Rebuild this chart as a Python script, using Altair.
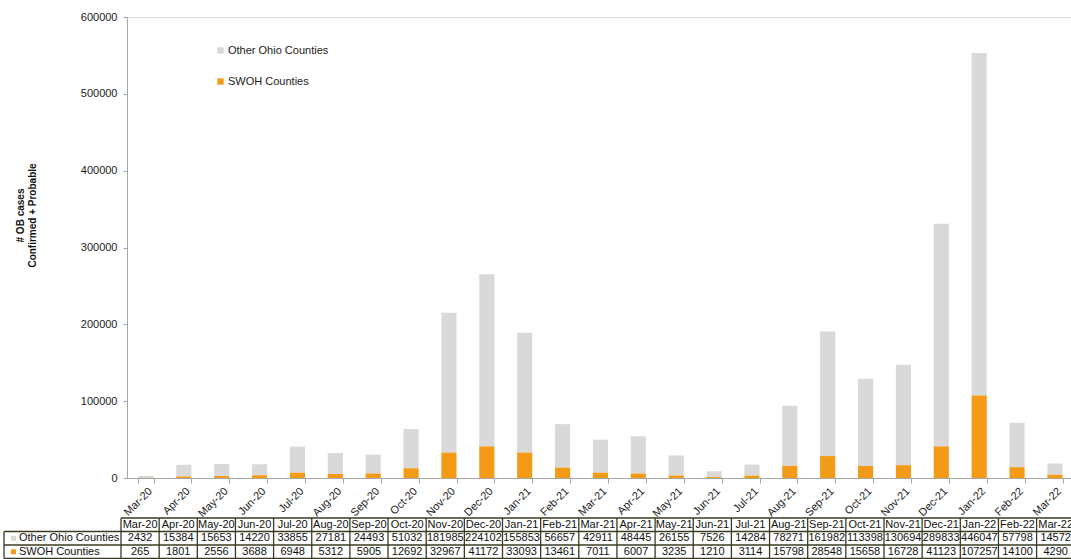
import altair as alt
import pandas as pd

months = ["Mar-20", "Apr-20", "May-20", "Jun-20", "Jul-20", "Aug-20", "Sep-20", "Oct-20",
          "Nov-20", "Dec-20", "Jan-21", "Feb-21", "Mar-21", "Apr-21", "May-21", "Jun-21",
          "Jul-21", "Aug-21", "Sep-21", "Oct-21", "Nov-21", "Dec-21", "Jan-22", "Feb-22", "Mar-22"]
other_ohio = [2432, 15384, 15653, 14220, 33855, 27181, 24493, 51032, 181985, 224102, 155853,
              56657, 42911, 48445, 26155, 7526, 14284, 78271, 161982, 113398, 130694, 289833,
              446047, 57798, 14572]
swoh = [265, 1801, 2556, 3688, 6948, 5312, 5905, 12692, 32967, 41172, 33093, 13461, 7011,
        6007, 3235, 1210, 3114, 15798, 28548, 15658, 16728, 41123, 107257, 14100, 4290]
series_names = ["Other Ohio Counties", "SWOH Counties"]
series_colors = ["#D9D9D9", "#F39B16"]
y_ticks = [0, 100000, 200000, 300000, 400000, 500000, 600000]

rows = []
for i, m in enumerate(months):
    rows.append({"month": m, "series": series_names[0], "value": other_ohio[i], "stack": 1})
    rows.append({"month": m, "series": series_names[1], "value": swoh[i], "stack": 0})
df = pd.DataFrame(rows)
mdf = pd.DataFrame({"month": months})
sdf = pd.DataFrame({"series": series_names, "color": series_colors})

FONT = "Liberation Sans"
W, H = 944, 461
STEP = 37.875
TSTEP = 38.15
TX0 = -6
T_TOP, T_R1, T_R2, T_BOT = 501, 514.5, 528, 541.5
LINE = "#3a3a22"
TFS = 11

xscale = alt.Scale(domain=months, range=[0, STEP * len(months)], paddingInner=0.6, paddingOuter=0.3)
bars = alt.Chart(df).mark_bar().encode(
    x=alt.X("month:N", sort=months, scale=xscale, title=None,
            axis=alt.Axis(labelAngle=315, tickBand="extent", tickSize=5, labelFontSize=11,
                          labelFont=FONT, labelColor="#222", domainColor="#A6A6A6",
                          tickColor="#A6A6A6", labelPadding=2)),
    y=alt.Y("value:Q", stack="zero",
            scale=alt.Scale(domain=[0, 600000], nice=False),
            axis=alt.Axis(values=y_ticks, format="d", grid=False, tickSize=4, labelPadding=6,
                          labelFontSize=11, labelFont=FONT, labelColor="#222",
                          domainColor="#A6A6A6", tickColor="#A6A6A6",
                          title=["# OB cases", "Confirmed + Probable"], titleFont=FONT,
                          titleFontSize=10, titleFontWeight="bold", titleColor="#111",
                          titleAngle=270, titleX=-107, titleY=198, titleAlign="center",
                          titleBaseline="middle", titleLineHeight=12)),
    color=alt.Color("series:N", scale=alt.Scale(domain=series_names, range=series_colors),
                    legend=alt.Legend(title=None, orient="none", legendX=88, legendY=28,
                                      symbolType="square", symbolSize=40, symbolStrokeWidth=0,
                                      labelFont=FONT, labelFontSize=11, labelColor="#222",
                                      rowPadding=19, labelOffset=2)),
    order=alt.Order("stack:Q", sort="ascending"),
)

tscale = alt.Scale(domain=months, range=[TX0, TX0 + TSTEP * len(months)], paddingInner=0, paddingOuter=0)
tx = alt.X("month:N", sort=months, scale=tscale, axis=None)

header = alt.Chart(mdf).mark_text(font=FONT, fontSize=TFS, color="#111", baseline="middle").encode(
    x=tx, y=alt.value((T_TOP + T_R1) / 2), text="month:N")
val_other = alt.Chart(df).transform_filter(alt.datum.series == series_names[0]).mark_text(
    font=FONT, fontSize=TFS, color="#111", baseline="middle").encode(
    x=tx, y=alt.value((T_R1 + T_R2) / 2), text="value:Q")
val_swoh = alt.Chart(df).transform_filter(alt.datum.series == series_names[1]).mark_text(
    font=FONT, fontSize=TFS, color="#111", baseline="middle").encode(
    x=tx, y=alt.value((T_R2 + T_BOT) / 2), text="value:Q")
lab_other = alt.Chart(sdf).transform_filter(alt.datum.series == series_names[0]).mark_text(
    font=FONT, fontSize=TFS, color="#111", baseline="middle", align="left").encode(
    x=alt.value(-108), y=alt.value((T_R1 + T_R2) / 2), text="series:N")
lab_swoh = alt.Chart(sdf).transform_filter(alt.datum.series == series_names[1]).mark_text(
    font=FONT, fontSize=TFS, color="#111", baseline="middle", align="left").encode(
    x=alt.value(-108), y=alt.value((T_R2 + T_BOT) / 2), text="series:N")
key_other = alt.Chart(sdf).transform_filter(alt.datum.series == series_names[0]).mark_rect().encode(
    x=alt.value(-116), x2=alt.value(-111),
    y=alt.value((T_R1 + T_R2) / 2 - 2.5), y2=alt.value((T_R1 + T_R2) / 2 + 2.5),
    fill=alt.Fill("color:N", scale=None))
key_swoh = alt.Chart(sdf).transform_filter(alt.datum.series == series_names[1]).mark_rect().encode(
    x=alt.value(-116), x2=alt.value(-111),
    y=alt.value((T_R2 + T_BOT) / 2 - 2.5), y2=alt.value((T_R2 + T_BOT) / 2 + 2.5),
    fill=alt.Fill("color:N", scale=None))

vlines = alt.Chart(mdf).mark_rule(color=LINE, strokeWidth=1.3).encode(
    x=alt.X("month:N", sort=months, scale=tscale, axis=None, bandPosition=0),
    y=alt.value(T_TOP), y2=alt.value(T_BOT))
vlast = alt.Chart(mdf).transform_filter(alt.datum.month == months[-1]).mark_rule(
    color=LINE, strokeWidth=1.3).encode(
    x=alt.X("month:N", sort=months, scale=tscale, axis=None, bandPosition=1),
    y=alt.value(T_TOP), y2=alt.value(T_BOT))
TEND = TX0 + TSTEP * len(months)
vleft = alt.Chart(mdf).transform_filter(alt.datum.month == months[0]).mark_rule(
    color=LINE, strokeWidth=1.3).encode(
    x=alt.value(-123), y=alt.value(T_R1), y2=alt.value(T_BOT))
htop = alt.Chart(mdf).transform_filter(alt.datum.month == months[0]).mark_rule(
    color=LINE, strokeWidth=1.3).encode(
    x=alt.value(TX0), x2=alt.value(TEND), y=alt.value(T_TOP))
hr1 = alt.Chart(mdf).transform_filter(alt.datum.month == months[0]).mark_rule(
    color=LINE, strokeWidth=1.3).encode(
    x=alt.value(-123), x2=alt.value(TEND), y=alt.value(T_R1))
hr2 = alt.Chart(mdf).transform_filter(alt.datum.month == months[0]).mark_rule(
    color=LINE, strokeWidth=1.3).encode(
    x=alt.value(-123), x2=alt.value(TEND), y=alt.value(T_R2))
hbot = alt.Chart(mdf).transform_filter(alt.datum.month == months[0]).mark_rule(
    color=LINE, strokeWidth=1.3).encode(
    x=alt.value(-123), x2=alt.value(TEND), y=alt.value(T_BOT))

table = alt.layer(vlines, vlast, vleft, htop, hr1, hr2, hbot, key_other, key_swoh,
                  header, val_other, val_swoh, lab_other, lab_swoh)

chart = alt.layer(bars, table).resolve_scale(x="independent").properties(
    width=W, height=H,
    autosize=alt.AutoSizeParams(type="none"),
    padding={"left": 127, "top": 17, "right": 0, "bottom": 81},
).configure_view(stroke=None).configure(background="white")

chart.save("out.html", embed_options={"renderer": "svg", "actions": False})
